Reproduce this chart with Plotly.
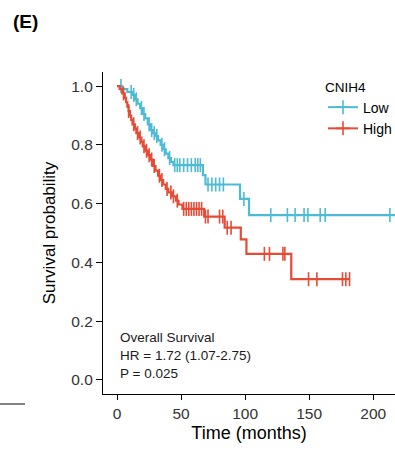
import numpy as np
import plotly.graph_objects as go

# ---- data ----
low_times = [0, 4, 8, 12, 14, 16, 18, 20, 22, 24, 26, 28, 30, 32, 34, 36, 38, 40, 42, 44, 67, 69, 96, 103, 222]
low_surv = [1.0, 0.99, 0.98, 0.97, 0.955, 0.94, 0.925, 0.905, 0.89, 0.87, 0.85, 0.84, 0.83, 0.815, 0.80,
            0.785, 0.77, 0.755, 0.742, 0.731, 0.697, 0.665, 0.616, 0.561, 0.561]
low_censor = [3, 11, 13, 15, 19, 21, 25, 27, 29, 31, 35, 37, 41, 45, 47, 49, 52, 55, 58, 61, 63, 65,
              71, 74, 77, 80, 83, 99, 120, 133, 139, 146, 149, 158.6, 162.5, 213, 222]

high_times = [0, 2, 4, 6, 7, 8, 9, 10, 11, 12, 14, 15, 17, 19, 20, 22, 24, 26, 28, 30, 32, 34, 36, 38,
              40, 43, 46, 48, 51, 68, 84, 96.6, 101, 136, 181.5]
high_surv = [1.0, 0.99, 0.975, 0.96, 0.945, 0.93, 0.915, 0.90, 0.885, 0.87, 0.855, 0.84, 0.825, 0.81,
             0.795, 0.78, 0.765, 0.75, 0.728, 0.712, 0.695, 0.68, 0.665, 0.65, 0.638, 0.625, 0.61,
             0.597, 0.582, 0.556, 0.518, 0.478, 0.429, 0.343, 0.343]
high_censor = [5, 9, 13, 16, 18, 21, 23, 25, 27, 29, 33, 35, 39, 42, 44, 47, 52, 54, 56, 58, 60, 62,
               64, 66, 69, 71, 80, 82.5, 86, 89, 115, 119, 129.5, 131, 149.5, 156, 176, 178.6, 181.5]

x_ticks = [0, 50, 100, 150, 200]
y_ticks = [0.0, 0.2, 0.4, 0.6, 0.8, 1.0]
y_tick_labels = ["0.0", "0.2", "0.4", "0.6", "0.8", "1.0"]

annot_lines = ["Overall Survival", "HR = 1.72 (1.07-2.75)", "P = 0.025"]

BLUE = "#4DBBD5"
RED = "#E64B35"
FONT = "Liberation Sans, Arial, sans-serif"


def surv_at(times, surv, t):
    idx = np.searchsorted(np.array(times), np.array(t), side="right") - 1
    return np.array(surv)[idx]


fig = go.Figure()
for name, times, surv, cens, col in [("Low", low_times, low_surv, low_censor, BLUE),
                                      ("High", high_times, high_surv, high_censor, RED)]:
    fig.add_trace(go.Scatter(x=times, y=surv, mode="lines", line=dict(color=col, width=2.2, shape="hv"),
                             name=name, legendgroup=name, showlegend=False))
    fig.add_trace(go.Scatter(x=cens, y=surv_at(times, surv, cens), mode="markers",
                             legendgroup=name, name=name,
                             marker=dict(symbol="line-ns-open", size=10, color=col,
                                         line=dict(color=col, width=1.6)),
                             showlegend=False))
    # legend entry
    fig.add_trace(go.Scatter(x=[None], y=[None], mode="lines+markers", name=name,
                             line=dict(color=col, width=2),
                             marker=dict(symbol="cross-thin-open", size=10, color=col,
                                         line=dict(color=col, width=1.6))))

fig.update_layout(
    width=395, height=452,
    margin=dict(l=103, r=0, t=72, b=58, autoexpand=False),
    paper_bgcolor="white", plot_bgcolor="white",
    font=dict(family=FONT, color="#000000"),
    xaxis=dict(range=[-11, 217], tickvals=x_ticks, showgrid=False, zeroline=False,
               showline=True, linecolor="black", linewidth=1.2, ticks="outside", ticklen=5,
               tickcolor="black", tickwidth=1.2, tickfont=dict(size=15.5, color="#333333"),
               title=dict(text="Time (months)", font=dict(size=18), standoff=5)),
    yaxis=dict(range=[-0.048, 1.048], tickvals=y_ticks, ticktext=y_tick_labels, showgrid=False,
               zeroline=False, showline=True, linecolor="black", linewidth=1.2, ticks="outside",
               ticklen=6, tickcolor="black", tickwidth=1.2, tickfont=dict(size=15.5, color="#333333"),
               title=dict(text="Survival probability", font=dict(size=17), standoff=11)),
    legend=dict(xref="container", yref="container", x=323 / 395, y=1 - 74 / 452,
                xanchor="left", yanchor="top", bgcolor="rgba(0,0,0,0)",
                font=dict(size=14), title=dict(text="CNIH4", font=dict(size=13.5)),
                itemwidth=30, tracegroupgap=0),
)

for i, txt in enumerate(annot_lines):
    fig.add_annotation(x=0.05, xref="paper", y=(394 - (337 + 18 * i)) / 322, yref="paper",
                       text=txt, showarrow=False, xanchor="left", yanchor="middle",
                       font=dict(size=13.5, color="#1a1a1a"))

fig.add_annotation(text="<b>(E)</b>", xref="paper", yref="paper", x=(11 - 103) / 292,
                   y=(394 - 21) / 322, xanchor="left", yanchor="middle", showarrow=False,
                   font=dict(size=19, color="black"))

fig.add_shape(type="line", xref="paper", yref="paper", x0=-103 / 292, x1=(25 - 103) / 292,
              y0=(394 - 404) / 322, y1=(394 - 404) / 322, line=dict(color="#333333", width=1.2))

fig.write_html("out.html", config={"displayModeBar": False},
               post_script="document.body.style.margin='0';")
